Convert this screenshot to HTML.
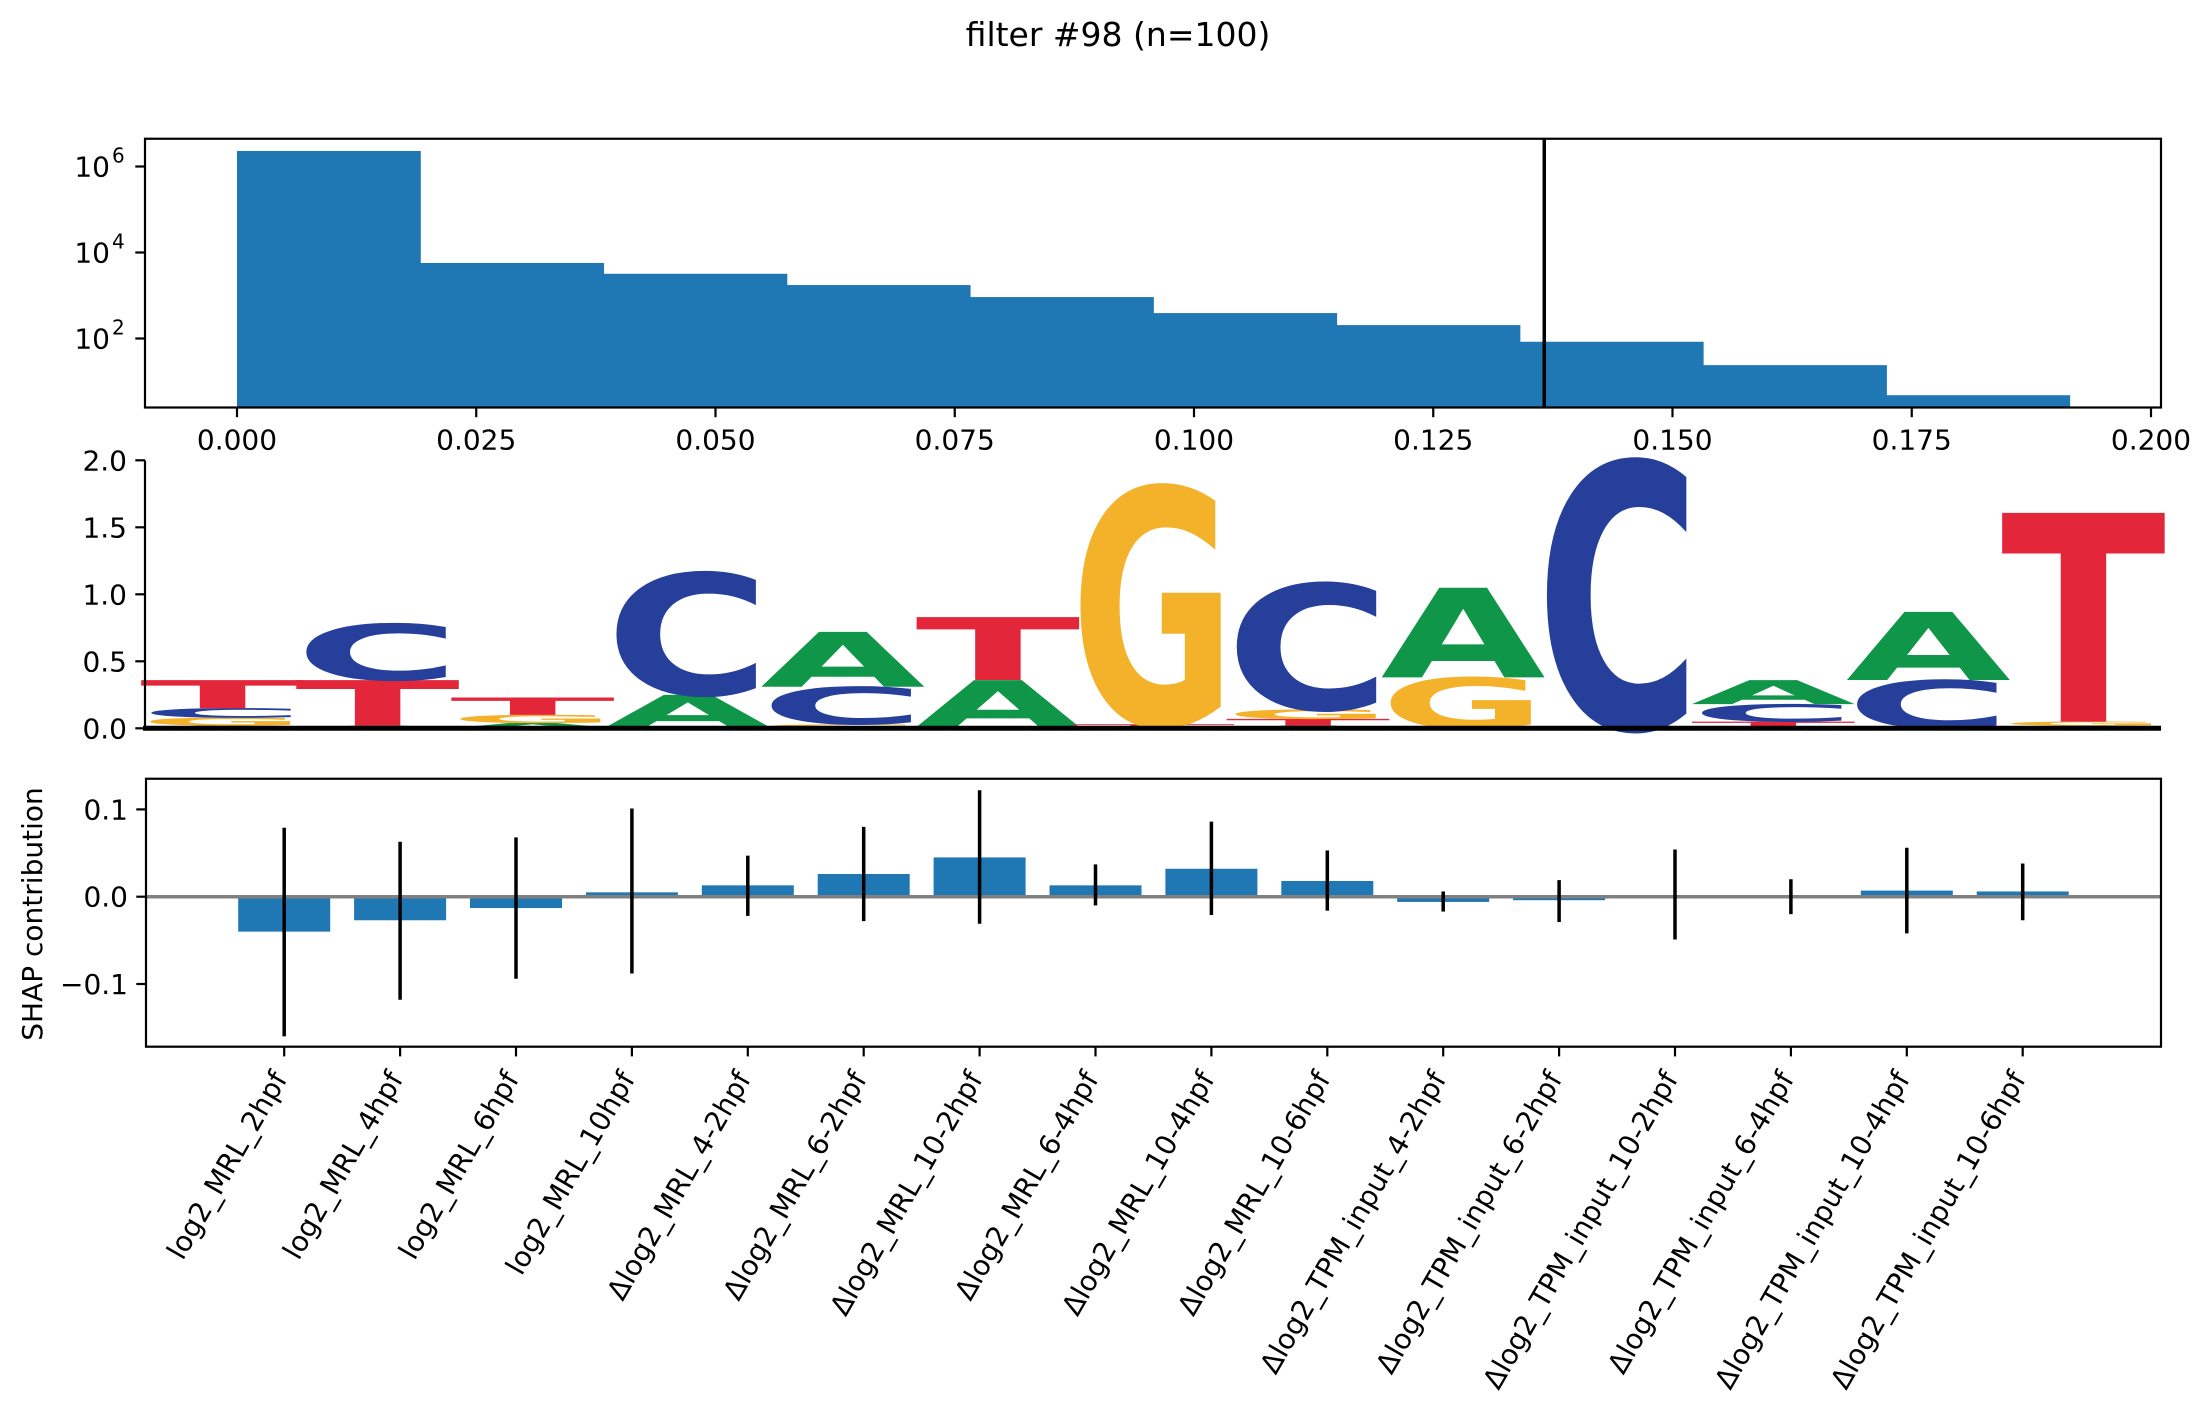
<!DOCTYPE html>
<html><head><meta charset="utf-8"><style>
html,body{margin:0;padding:0;background:#fff;}
svg{display:block;font-family:"DejaVu Sans","Liberation Sans",sans-serif;}
</style></head><body>
<svg id="fig" width="2209" height="1409" viewBox="0 0 2209 1409" xmlns="http://www.w3.org/2000/svg">
<rect width="2209" height="1409" fill="#fff"/>
<text x="1118" y="46" font-size="33" text-anchor="middle">filter #98 (n=100)</text>
<g id="hist"></g>
<g id="logo"></g>
<g id="shap"></g>
</svg>
<script>
// ---- Histogram data ----
const histCounts = [2300000, 5700, 3200, 1750, 920, 390, 205, 84, 24, 4.8];
const histBinStart = 0.0;
const histBinWidth = 0.01915;
const histThreshold = 0.1366;
const histXTicks = [0.000, 0.025, 0.050, 0.075, 0.100, 0.125, 0.150, 0.175, 0.200];
const histXTickLabels = ["0.000","0.025","0.050","0.075","0.100","0.125","0.150","0.175","0.200"];
const histYExps = [2, 4, 6];

// ---- Logo data (bits per letter per position) ----
const logoA = [0.02, 0.02, 0.04, 0.24, 0.41, 0.35, 0.00, 0.02, 0.67, 0.00, 0.18, 0.51, 0.02];
const logoC = [0.07, 0.42, 0.00, 0.91, 0.28, 0.01, 0.00, 0.94, 0.00, 1.99, 0.13, 0.36, 0.00];
const logoG = [0.06, 0.00, 0.06, 0.00, 0.03, 0.00, 1.77, 0.07, 0.38, 0.00, 0.00, 0.00, 0.03];
const logoT = [0.21, 0.34, 0.13, 0.01, 0.00, 0.47, 0.03, 0.05, 0.00, 0.00, 0.05, 0.00, 1.56];
const logoYTicks = [0.0, 0.5, 1.0, 1.5, 2.0];
const logoYTickLabels = ["0.0","0.5","1.0","1.5","2.0"];

// ---- SHAP data ----
const shapFeatures = ["log2_MRL_2hpf","log2_MRL_4hpf","log2_MRL_6hpf","log2_MRL_10hpf","Δlog2_MRL_4-2hpf","Δlog2_MRL_6-2hpf","Δlog2_MRL_10-2hpf","Δlog2_MRL_6-4hpf","Δlog2_MRL_10-4hpf","Δlog2_MRL_10-6hpf","Δlog2_TPM_input_4-2hpf","Δlog2_TPM_input_6-2hpf","Δlog2_TPM_input_10-2hpf","Δlog2_TPM_input_6-4hpf","Δlog2_TPM_input_10-4hpf","Δlog2_TPM_input_10-6hpf"];
const shapMeans = [-0.040,-0.027,-0.013,0.005,0.013,0.026,0.045,0.013,0.032,0.018,-0.006,-0.004,0.0005,0.0003,0.007,0.006];
const shapUpper = [0.079,0.063,0.068,0.101,0.047,0.080,0.122,0.037,0.086,0.053,0.006,0.019,0.054,0.020,0.056,0.038];
const shapLower = [-0.160,-0.118,-0.094,-0.088,-0.022,-0.028,-0.031,-0.010,-0.021,-0.016,-0.017,-0.029,-0.049,-0.020,-0.042,-0.027];
const shapYTicks = [-0.1, 0.0, 0.1];
const shapYTickLabels = ["\u22120.1","0.0","0.1"];

const NS = "http://www.w3.org/2000/svg";
function mk(parent, tag, attrs, text) {
  const e = document.createElementNS(NS, tag);
  for (const k in attrs) e.setAttribute(k, attrs[k]);
  if (text !== undefined) e.textContent = text;
  parent.appendChild(e);
  return e;
}
const TICK = 9.7, SW = 2.2, FS = 28;
const AX_L = 145, AX_R = 2161;

// ===== Histogram =====
(function(){
  const g = document.getElementById('hist');
  const L = AX_L, R = AX_R, T = 138.75, B = 407.5;
  const xS = v => 237 + v * 9570;
  const yS = v => 252.5 - (Math.log10(v) - 4) * 43.0;
  histCounts.forEach((c, i) => {
    const x0 = xS(histBinStart + i * histBinWidth), x1 = xS(histBinStart + (i + 1) * histBinWidth);
    const r = mk(g, 'rect', {x: x0, y: yS(c), width: x1 - x0 + 0.5, height: B - yS(c), fill: '#1f77b4'});
    
    
  });
  const th = mk(g, 'line', {x1: xS(histThreshold), x2: xS(histThreshold), y1: T, y2: B, stroke: '#000', 'stroke-width': 3.5});
  
  
  const fr = mk(g, 'rect', {x: L, y: T, width: R - L, height: B - T, fill: 'none', stroke: '#000', 'stroke-width': SW});
  
  
  histXTicks.forEach((v, i) => {
    const x = xS(v);
    mk(g, 'line', {x1: x, x2: x, y1: B, y2: B + TICK, stroke: '#000', 'stroke-width': SW});
    const t = mk(g, 'text', {x: x, y: B + 42, 'font-size': FS, 'text-anchor': 'middle'}, histXTickLabels[i]);
    
    
  });
  histYExps.forEach(e => {
    const y = yS(Math.pow(10, e));
    mk(g, 'line', {x1: L - TICK, x2: L, y1: y, y2: y, stroke: '#000', 'stroke-width': SW});
    const t = mk(g, 'text', {x: 110, y: y + 10, 'font-size': FS, 'text-anchor': 'end'}, '10');
    
    
    mk(g, 'text', {x: 112, y: y - 4, 'font-size': 20}, String(e));
  });
})();

// ===== Logo =====
(function(){
  const g = document.getElementById('logo');
  const L = AX_L, R = AX_R, T = 460.4, B = 728.3;
  const yS = v => B - v * 134;
  const n = logoA.length;
  const pitch = (R - L) / n;
  const colors = {A: '#109648', C: '#253f9a', G: '#f4b22b', T: '#e4263b'};
  for (let i = 0; i < n; i++) {
    const items = [['A', logoA[i]], ['C', logoC[i]], ['G', logoG[i]], ['T', logoT[i]]]
      .filter(d => d[1] > 0).sort((a, b) => a[1] - b[1]);
    let base = 0;
    const x0 = L + i * pitch + pitch * 0.025, w = pitch * 0.95;
    items.forEach(([ch, h]) => {
      const yb = yS(base), ht = yS(base) - yS(base + h);
      const sy = ht / 73;
      const gg = mk(g, 'g', {transform: `translate(${x0 - w * 0.06},${yb}) scale(1,${sy})`});
      const t = mk(gg, 'text', {x: 0, y: 0, 'font-size': 100, 'font-weight': 'bold', fill: colors[ch],
        textLength: w * 1.12, lengthAdjust: 'spacingAndGlyphs'}, ch);
      
      
      base += h;
    });
  }
  const ax = mk(g, 'line', {x1: L, x2: L, y1: T, y2: B, stroke: '#000', 'stroke-width': SW});
  
  
  const bl = mk(g, 'line', {x1: L - 2, x2: R, y1: B, y2: B, stroke: '#000', 'stroke-width': 5});
  
  
  logoYTicks.forEach((v, i) => {
    const y = yS(v);
    mk(g, 'line', {x1: L - TICK, x2: L, y1: y, y2: y, stroke: '#000', 'stroke-width': SW});
    const t = mk(g, 'text', {x: L - 18, y: y + 10, 'font-size': FS, 'text-anchor': 'end'}, logoYTickLabels[i]);
    
    
  });
})();

// ===== SHAP =====
(function(){
  const g = document.getElementById('shap');
  const L = 146, R = AX_R, T = 778.75, B = 1046.7;
  const yS = v => 896.7 - v * 873;
  const xS = i => 284.2 + i * 115.9;
  const bw = 92;
  shapMeans.forEach((m, i) => {
    const y0 = Math.min(yS(m), yS(0)), h = Math.abs(yS(m) - yS(0));
    const r = mk(g, 'rect', {x: xS(i) - bw / 2, y: y0, width: bw, height: Math.max(h, 0.5), fill: '#1f77b4'});
    
    
  });
  const z = mk(g, 'line', {x1: L, x2: R, y1: yS(0), y2: yS(0), stroke: '#808080', 'stroke-width': 3.5});
  
  
  shapMeans.forEach((m, i) => {
    const e = mk(g, 'line', {x1: xS(i), x2: xS(i), y1: yS(shapUpper[i]), y2: yS(shapLower[i]), stroke: '#000', 'stroke-width': 3.5});
    
    
  });
  const fr = mk(g, 'rect', {x: L, y: T, width: R - L, height: B - T, fill: 'none', stroke: '#000', 'stroke-width': SW});
  
  
  shapYTicks.forEach((v, i) => {
    const y = yS(v);
    mk(g, 'line', {x1: L - TICK, x2: L, y1: y, y2: y, stroke: '#000', 'stroke-width': SW});
    const t = mk(g, 'text', {x: L - 18, y: y + 10, 'font-size': FS, 'text-anchor': 'end'}, shapYTickLabels[i]);
    
    
  });
  shapFeatures.forEach((f, i) => {
    const x = xS(i);
    mk(g, 'line', {x1: x, x2: x, y1: B, y2: B + TICK, stroke: '#000', 'stroke-width': SW});
    const ax = x + 4, ay = B + 32;
    const t = mk(g, 'text', {x: ax, y: ay, 'font-size': FS, 'text-anchor': 'end', transform: `rotate(-60 ${ax} ${ay})`}, f);
    
    
  });
  const yl = mk(g, 'text', {x: 42, y: 914, 'font-size': FS, 'text-anchor': 'middle', transform: 'rotate(-90 42 914)'}, 'SHAP contribution');
  
  
})();
</script>
</body></html>
